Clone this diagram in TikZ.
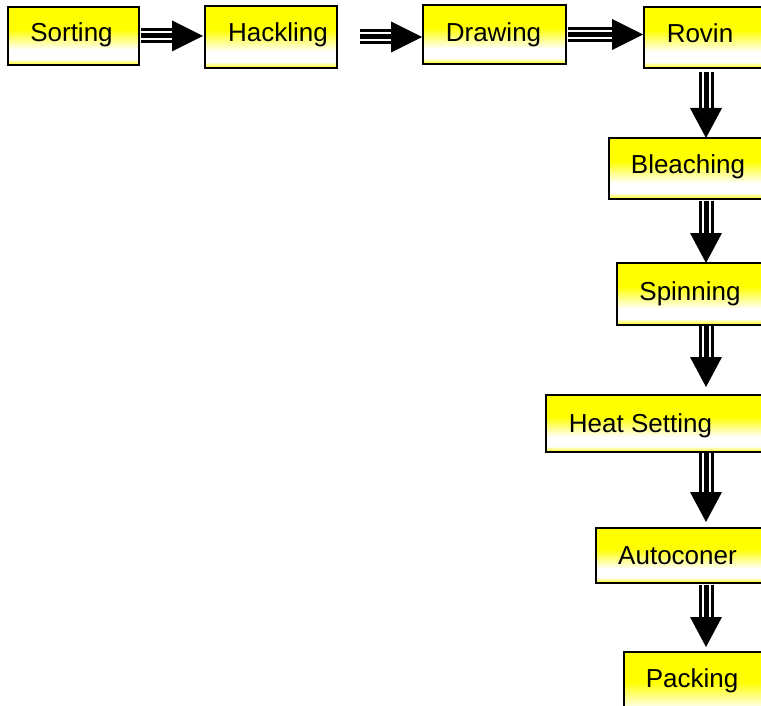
\documentclass[tikz,border=0pt]{standalone}
\usepackage{fontspec}
\setmainfont{Liberation Sans}
\usetikzlibrary{calc}
\pgfdeclareverticalshading{boxshade}{100bp}{color(0bp)=(yellow); color(25bp)=(yellow); color(30bp)=(white); color(38bp)=(white); color(56bp)=(yellow); color(100bp)=(yellow)}
\tikzset{
  box/.style={draw=black, line width=2.6pt, shade, shading=boxshade, anchor=north west, inner sep=0pt, outer sep=0pt},
  lbl/.style={anchor=base, inner sep=0pt, font=\fontsize{26}{30}\selectfont},
  shaftout/.style={line width=15pt, black},
  shaftgap/.style={line width=9pt, white},
  shaftmid/.style={line width=5pt, black},
  headfill/.style={fill=black},
}
\newcommand\hflow[4]{%
  \coordinate (s) at ($(#1.east)+(#3,0)$);
  \coordinate (t) at ($(s -| #2.west)+(-#4,0)$);
  \coordinate (b) at ($(t)+(-31,0)$);
  \draw[shaftout] (s) -- ($(b)+(1,0)$);
  \draw[shaftgap] (s) -- ($(b)+(1,0)$);
  \draw[shaftmid] (s) -- ($(b)+(1,0)$);
  \fill[headfill] (t) -- ($(b)+(0,-15.5)$) -- ($(b)+(0,15.5)$) -- cycle;
}
\newcommand\vflow[4]{%
  \coordinate (s) at ($(ax |- #1.south)+(0,#3)$);
  \coordinate (t) at ($(ax |- #2.north)+(0,-#4)$);
  \coordinate (b) at ($(t)+(0,-30)$);
  \draw[shaftout] (s) -- ($(b)+(0,1)$);
  \draw[shaftgap] (s) -- ($(b)+(0,1)$);
  \draw[shaftmid] (s) -- ($(b)+(0,1)$);
  \fill[headfill] (t) -- ($(b)+(-16,0)$) -- ($(b)+(16,0)$) -- cycle;
}
\begin{document}
\begin{tikzpicture}[x=1pt, y=-1pt]
\useasboundingbox (0,0) rectangle (761,706);
\fill[white] (0,0) rectangle (761,706);
\clip (0,0) rectangle (761,706);
\coordinate (ax) at (706,0);
% boxes
\node[box, minimum width=131pt, minimum height=58pt] (sort) at (8,7) {};
\node[box, minimum width=132pt, minimum height=62pt] (hack) at (205,6) {};
\node[box, minimum width=143pt, minimum height=59pt] (draw) at (423,5) {};
\node[box, minimum width=156pt, minimum height=61pt] (rov) at (644,7) {};
\node[box, minimum width=191pt, minimum height=61pt] (blea) at (609,138) {};
\node[box, minimum width=183pt, minimum height=62pt] (spin) at (617,263) {};
\node[box, minimum width=254pt, minimum height=57pt] (heat) at (546,395) {};
\node[box, minimum width=204pt, minimum height=55pt] (auto) at (596,528) {};
\node[box, minimum width=176pt, minimum height=78pt] (pack) at (624,652) {};
% labels
\node[lbl] (tsort) at (71.5,42) {Sorting};
\node[lbl] (thack) at (278,42) {Hackling};
\node[lbl] (tdraw) at (493.5,42) {Drawing};
\node[lbl] (trov) at (700,43) {Rovin};
\node[lbl] (tblea) at (688,174) {Bleaching};
\node[lbl] (tspin) at (690,300) {Spinning};
\node[lbl] (theat) at (640.5,432) {Heat Setting};
\node[lbl] (tauto) at (677.5,564) {Autoconer};
\node[lbl] (tpack) at (692,687) {Packing};
% arrows
\hflow{sort}{hack}{2}{2}
\hflow{hack}{draw}{23}{1}
\hflow{draw}{rov}{2}{1}
\vflow{rov}{blea}{4}{0}
\vflow{blea}{spin}{2}{0}
\vflow{spin}{heat}{1}{8}
\vflow{heat}{auto}{1}{6}
\vflow{auto}{pack}{2}{5}
\end{tikzpicture}
\end{document}
